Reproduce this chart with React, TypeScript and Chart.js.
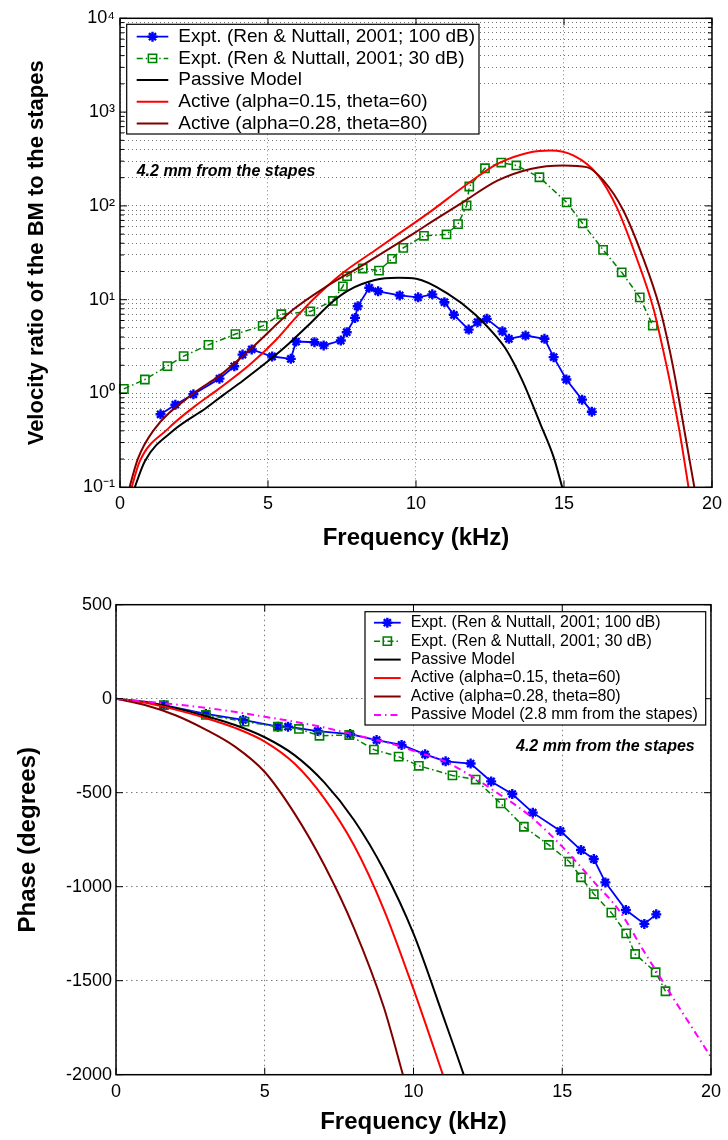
import React, { useEffect, useRef } from 'react';
import { Chart, registerables } from 'chart.js';

Chart.register(...registerables);

const FONT = "'Liberation Sans', Arial, Helvetica, sans-serif";

// ---------------- Top panel: velocity ratio (log scale) ----------------
const magTickPowers = [0.1, 1, 10, 100, 1000, 10000];
const magTickLabels = ['10⁻¹', '10⁰', '10¹', '10²', '10³', '10⁴'];
const freqTicks = [0, 5, 10, 15, 20];

const magExpt100F = [1.37, 1.87, 2.48, 3.36, 3.86, 4.14, 4.45, 5.14, 5.77, 5.95, 6.57, 6.88, 7.46, 7.66, 7.94, 8.03, 8.42, 8.72, 9.45, 10.07, 10.55, 10.96, 11.28, 11.78, 12.08, 12.39, 12.92, 13.14, 13.70, 14.34, 14.65, 15.08, 15.61, 15.94];
const magExpt100V = [0.60, 0.76, 0.98, 1.44, 1.95, 2.6, 2.95, 2.48, 2.34, 3.58, 3.52, 3.25, 3.67, 4.5, 6.4, 8.5, 13.4, 12.3, 11.1, 10.6, 11.4, 9.4, 6.9, 4.8, 5.75, 6.25, 4.6, 3.83, 4.15, 3.83, 2.44, 1.41, 0.86, 0.64];

const magExpt30F = [0.13, 0.84, 1.60, 2.15, 2.99, 3.90, 4.82, 5.45, 6.43, 7.19, 7.53, 7.67, 8.20, 8.75, 9.19, 9.57, 10.27, 11.03, 11.42, 11.71, 11.80, 12.33, 12.88, 13.39, 14.17, 15.09, 15.63, 16.32, 16.95, 17.56, 18.0];
const magExpt30V = [1.12, 1.41, 1.96, 2.5, 3.3, 4.3, 5.26, 7.0, 7.5, 9.7, 13.9, 17.8, 21.5, 20.4, 27.3, 35.7, 48, 49.6, 64, 101, 161, 252, 290, 270, 202, 109, 65, 34, 19.6, 10.6, 5.3];

const magPassF = [0.42, 0.84, 1.79, 2.91, 3.52, 4.14, 5.14, 5.70, 6.38, 7.16, 7.72, 8.61, 9.40, 10.01, 11.07, 11.97, 12.64, 13.03, 13.59, 14.20, 14.65, 14.98];
const magPassV = [0.085, 0.19, 0.40, 0.70, 0.98, 1.36, 2.4, 3.4, 5.4, 9.4, 12.6, 16.2, 17.1, 16.7, 11.6, 7.1, 4.3, 3.0, 1.38, 0.475, 0.21, 0.09];

const magAct1F = [0.33, 0.67, 1.62, 2.5, 3.30, 4.36, 5.26, 5.93, 6.60, 7.49, 8.61, 9.40, 10.01, 10.51, 11.63, 12.75, 13.87, 14.54, 15.33, 16.11, 16.78, 17.45, 18.01, 18.35, 18.57, 18.90, 19.23];
const magAct1V = [0.085, 0.19, 0.42, 0.72, 1.1, 2.0, 3.7, 6.4, 10.6, 18.9, 33.5, 50, 68, 88, 162, 281, 374, 389, 344, 220, 97, 28, 8.3, 2.9, 1.38, 0.4, 0.09];

const magAct2F = [0.26, 0.6, 1.12, 2.48, 3.36, 4.47, 5.82, 6.94, 8.16, 9.40, 10.01, 10.51, 11.63, 12.75, 13.87, 14.99, 15.77, 16.33, 17.0, 17.67, 18.23, 18.57, 18.77, 19.07, 19.43];
const magAct2V = [0.085, 0.2, 0.40, 1.0, 1.55, 3.1, 7.7, 13.6, 23, 40, 53, 67, 112, 186, 248, 270, 259, 187, 90, 28, 8.3, 2.9, 1.38, 0.4, 0.09];

// ---------------- Bottom panel: phase ----------------
const phaseTicks = [-2000, -1500, -1000, -500, 0, 500];

const phExpt100F = [1.61, 3.02, 4.27, 5.44, 5.78, 6.78, 7.87, 8.76, 9.6, 10.39, 11.08, 11.92, 12.61, 13.32, 14.01, 14.94, 15.63, 16.06, 16.45, 17.14, 17.76, 18.16];
const phExpt100V = [-34, -81, -113, -149, -149, -172, -188, -220, -246, -296, -333, -345, -440, -507, -606, -704, -805, -853, -977, -1124, -1198, -1147];

const phExpt30F = [1.61, 3.02, 4.32, 5.44, 6.15, 6.84, 7.84, 8.67, 9.5, 10.18, 11.31, 12.09, 12.93, 13.71, 14.55, 15.24, 15.63, 16.06, 16.65, 17.15, 17.45, 18.14, 18.47];
const phExpt30V = [-34, -86, -122, -149, -161, -197, -193, -271, -308, -357, -408, -430, -557, -681, -778, -867, -950, -1039, -1138, -1248, -1358, -1455, -1556];

const phPassF = [0, 1, 2, 3, 4, 5, 6, 7, 8, 9, 10, 11, 11.67, 12];
const phPassV = [0, -18, -50, -92, -140, -205, -300, -445, -645, -910, -1250, -1690, -1992, -2150];

const phAct1F = [0, 1, 2, 3, 4, 5, 6, 7, 8, 9, 10, 10.97, 11.2];
const phAct1V = [0, -22, -58, -102, -155, -228, -345, -530, -780, -1120, -1545, -1992, -2100];

const phAct2F = [0, 1, 2, 3, 4, 5, 6, 7, 8, 9, 9.63, 9.8];
const phAct2V = [0, -35, -88, -163, -255, -390, -610, -885, -1220, -1640, -1992, -2090];

const phPass28F = [0, 3.15, 5.0, 6.73, 8.29, 9.41, 10.08, 11.08, 11.98, 12.76, 13.88, 15.0, 16.11, 16.9, 17.79, 18.6, 20];
const phPass28V = [0, -51, -96, -144, -202, -246, -282, -335, -415, -495, -619, -787, -982, -1124, -1355, -1560, -1906];

const LBL_100 = 'Expt. (Ren & Nuttall, 2001; 100 dB)';
const LBL_30 = 'Expt. (Ren & Nuttall, 2001; 30 dB)';
const LBL_PASS = 'Passive Model';
const LBL_ACT1 = 'Active (alpha=0.15, theta=60)';
const LBL_ACT2 = 'Active (alpha=0.28, theta=80)';
const LBL_PASS28 = 'Passive Model (2.8 mm from the stapes)';
const NOTE = '4.2 mm from the stapes';

const zip = (xs: number[], ys: number[]) => xs.map((x, i) => ({ x, y: ys[i] }));

function exptBlue(data: any) {
  return {
    label: LBL_100, data, borderColor: '#0000ff', backgroundColor: '#0000ff', borderWidth: 1.8,
    pointStyle: 'star', pointRadius: 5, pointBorderWidth: 2.4, pointBorderColor: '#0000ff',
    pointBackgroundColor: '#0000ff', tension: 0, clip: 6,
  };
}
function exptGreen(data: any) {
  return {
    label: LBL_30, data, borderColor: '#008000', backgroundColor: 'rgba(0,0,0,0)', borderWidth: 1.5,
    borderDash: [6, 3, 1.5, 3], pointStyle: 'rect', pointRadius: 5.8, pointBorderWidth: 1.6,
    pointBorderColor: '#008000', pointBackgroundColor: 'rgba(0,0,0,0)', tension: 0, clip: 6,
  };
}
function model(label: string, data: any, color: string, dash?: number[]) {
  return {
    label, data, borderColor: color, backgroundColor: color, borderWidth: 2, borderDash: dash || [],
    pointRadius: 0, pointStyle: 'line', cubicInterpolationMode: 'monotone', clip: 0,
  };
}

function drawMarker(ctx: CanvasRenderingContext2D, style: string, x: number, y: number, r: number, color: string, lw: number) {
  ctx.save();
  ctx.setLineDash([]);
  ctx.strokeStyle = color;
  ctx.lineWidth = lw;
  ctx.beginPath();
  if (style === 'star') {
    for (let k = 0; k < 4; k++) {
      const ang = (k * Math.PI) / 4;
      const dx = Math.cos(ang) * r, dy = Math.sin(ang) * r;
      ctx.moveTo(x - dx, y - dy);
      ctx.lineTo(x + dx, y + dy);
    }
  } else if (style === 'rect') {
    const s = r * Math.SQRT1_2;
    ctx.rect(x - s, y - s, 2 * s, 2 * s);
  }
  ctx.stroke();
  ctx.restore();
}

function framePlugin(isMajorY: (v: number) => boolean) {
  return {
    id: 'frameTicks',
    afterDatasetsDraw(chart: any) {
      const { ctx, chartArea: a, scales } = chart;
      ctx.save();
      ctx.strokeStyle = '#000';
      ctx.lineWidth = 1;
      ctx.setLineDash([]);
      ctx.beginPath();
      for (const t of scales.x.ticks) {
        const px = scales.x.getPixelForValue(t.value);
        ctx.moveTo(px, a.bottom); ctx.lineTo(px, a.bottom - 7);
        ctx.moveTo(px, a.top); ctx.lineTo(px, a.top + 7);
      }
      for (const t of scales.y.ticks) {
        const py = scales.y.getPixelForValue(t.value);
        const len = isMajorY(t.value) ? 7 : 4;
        ctx.moveTo(a.left, py); ctx.lineTo(a.left + len, py);
        ctx.moveTo(a.right, py); ctx.lineTo(a.right - len, py);
      }
      ctx.stroke();
      ctx.lineWidth = 1.5;
      ctx.strokeRect(a.left, a.top, a.right - a.left, a.bottom - a.top);
      ctx.restore();
    },
  };
}

function legendPlugin(cfg: any) {
  return {
    id: 'boxLegend',
    afterDraw(chart: any) {
      const ctx = chart.ctx as CanvasRenderingContext2D;
      ctx.save();
      ctx.fillStyle = '#fff';
      ctx.fillRect(cfg.x, cfg.y, cfg.w, cfg.h);
      ctx.lineWidth = 1.2;
      ctx.strokeStyle = '#000';
      ctx.setLineDash([]);
      ctx.strokeRect(cfg.x, cfg.y, cfg.w, cfg.h);
      ctx.font = `${cfg.fontSize}px ${FONT}`;
      ctx.textBaseline = 'middle';
      ctx.textAlign = 'left';
      chart.data.datasets.forEach((ds: any, i: number) => {
        const yy = cfg.row0 + i * cfg.rowH;
        ctx.strokeStyle = ds.borderColor;
        ctx.lineWidth = ds.borderWidth;
        ctx.setLineDash(ds.borderDash || []);
        ctx.beginPath();
        ctx.moveTo(cfg.lx1, yy);
        ctx.lineTo(cfg.lx2, yy);
        ctx.stroke();
        ctx.setLineDash([]);
        if (ds.pointRadius > 0) {
          drawMarker(ctx, ds.pointStyle, (cfg.lx1 + cfg.lx2) / 2, yy, ds.pointRadius, ds.borderColor, ds.pointBorderWidth);
        }
        ctx.fillStyle = '#000';
        ctx.fillText(ds.label, cfg.tx, yy);
      });
      ctx.font = `italic bold ${cfg.noteSize}px ${FONT}`;
      ctx.fillStyle = '#000';
      ctx.fillText(NOTE, cfg.noteX, cfg.noteY);
      ctx.restore();
    },
  };
}

const isPow10 = (v: number) => magTickPowers.some((p) => Math.abs(v / p - 1) < 1e-6);

function topConfig(): any {
  const datasets = [
    exptBlue(zip(magExpt100F, magExpt100V)),
    exptGreen(zip(magExpt30F, magExpt30V)),
    model(LBL_PASS, zip(magPassF, magPassV), '#000000'),
    model(LBL_ACT1, zip(magAct1F, magAct1V), '#ff0000'),
    model(LBL_ACT2, zip(magAct2F, magAct2V), '#800000'),
  ].map((d, i, arr) => ({ ...d, order: arr.length - i }));
  return {
    type: 'line',
    data: { datasets },
    options: {
      animation: false,
      responsive: false,
      maintainAspectRatio: false,
      layout: { padding: { left: 0, top: 18.3, right: 12.3, bottom: 0 } },
      plugins: { legend: { display: false }, tooltip: { enabled: false } },
      scales: {
        x: {
          type: 'linear', min: 0, max: 20,
          afterBuildTicks: (s: any) => { s.ticks = freqTicks.map((v) => ({ value: v })); },
          ticks: { font: { family: FONT, size: 18 }, color: '#000', padding: 6, maxRotation: 0, callback: (v: any) => String(v) },
          grid: { color: 'rgba(0,0,0,0.5)', lineWidth: 1, drawTicks: false },
          border: { display: false, dash: [1, 3] },
          title: { display: true, text: 'Frequency (kHz)', color: '#000', font: { family: FONT, size: 24, weight: 'bold' }, padding: { top: 0, bottom: 7.6 } },
          afterFit: (s: any) => { s.height = 72.7; },
        },
        y: {
          type: 'logarithmic', min: 0.1, max: 10000,
          afterBuildTicks: (s: any) => {
            const vals: number[] = [];
            for (const p of magTickPowers.slice(0, -1)) for (let k = 1; k <= 9; k++) vals.push(k * p);
            vals.push(10000);
            s.ticks = vals.map((v) => ({ value: v }));
          },
          ticks: {
            autoSkip: false, font: { family: FONT, size: 18 }, color: '#000', padding: 5,
            callback: (v: any) => {
              const idx = magTickPowers.findIndex((p) => Math.abs(v / p - 1) < 1e-6);
              return idx >= 0 ? magTickLabels[idx] : '';
            },
          },
          grid: { color: 'rgba(0,0,0,0.55)', lineWidth: 1, drawTicks: false },
          border: { display: false, dash: [1, 3] },
          title: { display: true, text: 'Velocity ratio of the BM to the stapes', color: '#000', font: { family: FONT, size: 22, weight: 'bold' }, padding: { top: 23.3, bottom: 0 } },
          afterFit: (s: any) => { s.width = 120; },
        },
      },
    },
    plugins: [
      framePlugin(isPow10),
      legendPlugin({ x: 126.7, y: 24.3, w: 352.3, h: 109.7, row0: 36.7, rowH: 21.7, lx1: 136.7, lx2: 168.3, tx: 178.3, fontSize: 19, noteSize: 16, noteX: 136.7, noteY: 172 }),
    ],
  };
}

function bottomConfig(): any {
  const datasets = [
    exptBlue(zip(phExpt100F, phExpt100V)),
    exptGreen(zip(phExpt30F, phExpt30V)),
    model(LBL_PASS, zip(phPassF, phPassV), '#000000'),
    model(LBL_ACT1, zip(phAct1F, phAct1V), '#ff0000'),
    model(LBL_ACT2, zip(phAct2F, phAct2V), '#800000'),
    model(LBL_PASS28, zip(phPass28F, phPass28V), '#ff00ff', [7, 4, 1.5, 4]),
  ].map((d, i, arr) => ({ ...d, order: arr.length - i }));
  return {
    type: 'line',
    data: { datasets },
    options: {
      animation: false,
      responsive: false,
      maintainAspectRatio: false,
      layout: { padding: { left: 0, top: 44.7, right: 15.5, bottom: 0 } },
      plugins: { legend: { display: false }, tooltip: { enabled: false } },
      scales: {
        x: {
          type: 'linear', min: 0, max: 20,
          afterBuildTicks: (s: any) => { s.ticks = freqTicks.map((v) => ({ value: v })); },
          ticks: { font: { family: FONT, size: 18 }, color: '#000', padding: 7, maxRotation: 0, callback: (v: any) => String(v) },
          grid: { color: 'rgba(0,0,0,0.5)', lineWidth: 1, drawTicks: false },
          border: { display: false, dash: [1.5, 3.5] },
          title: { display: true, text: 'Frequency (kHz)', color: '#000', font: { family: FONT, size: 24, weight: 'bold' }, padding: { top: 0, bottom: 3.6 } },
          afterFit: (s: any) => { s.height = 65.3; },
        },
        y: {
          type: 'linear', min: -2000, max: 500,
          afterBuildTicks: (s: any) => { s.ticks = phaseTicks.map((v) => ({ value: v })); },
          ticks: { autoSkip: false, font: { family: FONT, size: 18 }, color: '#000', padding: 4, callback: (v: any) => String(v) },
          grid: { color: 'rgba(0,0,0,0.5)', lineWidth: 1, drawTicks: false },
          border: { display: false, dash: [1.5, 3.5] },
          title: { display: true, text: 'Phase (degrees)', color: '#000', font: { family: FONT, size: 24, weight: 'bold' }, padding: { top: 13.6, bottom: 0 } },
          afterFit: (s: any) => { s.width = 116; },
        },
      },
    },
    plugins: [
      framePlugin(() => true),
      legendPlugin({ x: 365, y: 51.7, w: 340.7, h: 113.3, row0: 62.7, rowH: 18.45, lx1: 374, lx2: 400.7, tx: 410.7, fontSize: 16, noteSize: 16, noteX: 516, noteY: 186.7 }),
    ],
  };
}

function ChartCanvas({ make, width, height, top }: { make: () => any; width: number; height: number; top: number }) {
  const ref = useRef<HTMLCanvasElement | null>(null);
  useEffect(() => {
    if (!ref.current) return;
    const chart = new Chart(ref.current, make());
    return () => chart.destroy();
  }, []);
  return (
    <canvas
      ref={ref}
      width={width}
      height={height}
      style={{ position: 'absolute', left: 0, top, width, height, display: 'block' }}
    />
  );
}

export default function App() {
  return (
    <div style={{ position: 'fixed', left: 0, top: 0, width: 728, height: 1140, background: '#fff' }}>
      <ChartCanvas make={topConfig} width={728} height={560} top={0} />
      <ChartCanvas make={bottomConfig} width={728} height={580} top={560} />
    </div>
  );
}
